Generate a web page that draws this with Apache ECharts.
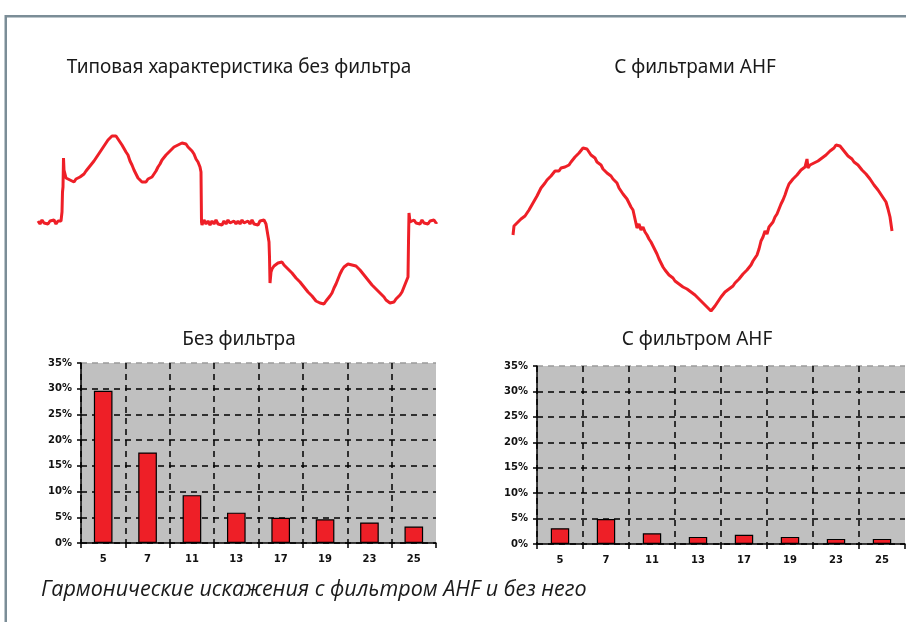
<!DOCTYPE html>
<html>
<head>
<meta charset="utf-8">
<script src="https://cdn.jsdelivr.net/npm/echarts@6/dist/echarts.min.js"></script>
<style>
html,body{margin:0;padding:0;background:#fff;}
#c{width:906px;height:622px;}
</style>
</head>
<body>
<div id="c"></div>
<script>
// ---- Data ----
var harmonics = ['5', '7', '11', '13', '17', '19', '23', '25'];
var withoutFilter = [29.6, 17.6, 9.3, 5.9, 4.9, 4.6, 4.0, 3.2];
var withFilterAHF = [3.1, 4.9, 2.1, 1.4, 1.8, 1.4, 1.0, 1.0];
var percentTicks = [0, 5, 10, 15, 20, 25, 30, 35];

var titleWaveNoFilter = 'Типовая характеристика без фильтра';
var titleWaveAHF = 'С фильтрами AHF';
var titleBarNoFilter = 'Без фильтра';
var titleBarAHF = 'С фильтром AHF';
var caption = 'Гармонические искажения с фильтром AHF и без него';

// current waveform without filter: [time, amplitude]
var waveNoFilter = [
[0,1],[2,-2],[4,2],[6,-1],[8,1],[10,-2],[12,1],[14,-1],[16,2],[18,-2],[20,1],[22,-1],[23,1],[24,10],[24.5,30],[25,35],[25.5,64],[26,52],[27,48],[28,44],[30,46],[32,42],[34,44],[36,40],[38,43],[40,41],[42,45],[44,46],[46,48],[48,51],[50,53],[52,56],[54,58],[56,61],[58,63],[60,67],[62,69],[64,73],[66,76],[68,78],[70,82],[72,83],[74,86],[76,84],[78,86],[80,83],[82,82],[84,77],[86,75],[88,70],[90,67],[92,61],[94,57],[96,52],[98,48],[100,44],[102,42],[104,40],[106,42],[108,40],[110,43],[112,41],[114,45],[116,48],[118,51],[120,55],[122,58],[124,62],[126,63],[128,67],[130,68],[132,71],[134,72],[136,75],[138,74],[140,77],[142,76],[144,79],[146,77],[148,78],[150,75],[152,73],[154,71],[156,68],[158,63],[160,60],[162,55],[163,50],[163.5,0],
[164,-3],[166,2],[168,-2],[170,1],[172,-3],[174,1],[176,-2],[178,2],[180,-2],[182,0],[184,-3],[186,1],[188,-2],[190,2],[192,-1],[194,-3],[196,1],[198,-2],[200,1],[202,-2],[204,2],[206,-1],[208,-3],[210,1],[212,-2],[214,2],[216,-2],[218,0],[220,-3],[222,1],[224,-1],[226,2],[228,-2],[230,-1],[231,-20],[231.5,-35],[232,-61],[233,-50],[234,-47],[236,-44],[238,-46],[240,-41],[242,-43],[244,-40],[246,-43],[248,-44],[250,-47],[252,-48],[254,-51],[256,-52],[258,-56],[260,-56],[262,-60],[264,-61],[266,-65],[268,-66],[270,-70],[272,-71],[274,-74],[276,-75],[278,-79],[280,-78],[282,-81],[284,-80],[286,-82],[288,-79],[290,-78],[292,-74],[294,-71],[296,-66],[298,-62],[300,-57],[302,-52],[304,-48],[306,-45],[308,-43],[310,-42],[312,-40],[314,-43],[316,-41],[318,-44],[320,-44],[322,-48],[324,-49],[326,-53],[328,-54],[330,-58],[332,-59],[334,-63],[336,-64],[338,-67],[340,-69],[342,-71],[344,-73],[346,-75],[348,-78],[350,-78],[352,-81],[354,-79],[356,-80],[358,-77],[360,-78],[362,-73],[364,-70],[366,-65],[368,-60],[370,-55],[370.5,-20],[371,9],[372,0],[374,-2],[376,2],[378,-1],[380,1],[382,-2],[384,2],[386,-1],[388,1],[390,-2],[392,1],[394,-1],[396,2],[398,-1],[399,0]
];

// current waveform with AHF filter: [time, amplitude]
var waveAHF = [
[0,-6],[1,3],[2,1],[4,6],[6,4],[8,10],[10,8],[12,13],[14,15],[16,19],[18,20],[20,26],[22,27],[24,33],[26,35],[28,41],[30,42],[32,46],[34,49],[36,50],[38,53],[40,55],[42,58],[44,60],[46,58],[48,61],[50,59],[52,62],[54,61],[56,64],[58,67],[60,68],[62,72],[64,73],[66,76],[68,77],[70,81],[72,83],[74,80],[76,78],[78,74],[80,72],[82,71],[84,67],[86,66],[88,64],[90,60],[92,59],[94,56],[96,55],[98,53],[100,50],[102,48],[104,46],[106,41],[108,40],[110,35],[112,33],[114,30],[116,26],[118,22],[120,19],[122,10],[124,1],[126,5],[128,-1],[130,2],[132,-3],[134,-6],[136,-10],[138,-13],[140,-17],[142,-21],[144,-25],[146,-30],[148,-34],[150,-38],[152,-41],[154,-43],[156,-46],[158,-45],[160,-49],[162,-52],[164,-53],[166,-55],[168,-54],[170,-58],[172,-57],[174,-60],[176,-61],[178,-63],[180,-64],[182,-66],[184,-68],[186,-70],[188,-72],[190,-74],[192,-76],[194,-78],[196,-79],[198,-82],[200,-80],[202,-77],[204,-74],[206,-72],[208,-68],[210,-66],[212,-63],[214,-63],[216,-60],[218,-58],[220,-57],[222,-54],[224,-52],[226,-50],[228,-48],[230,-45],[232,-44],[234,-41],[236,-39],[238,-36],[240,-32],[242,-29],[244,-26],[246,-20],[248,-12],[250,-8],[252,-2],[254,-5],[256,2],[258,4],[260,7],[262,12],[264,15],[266,20],[268,25],[270,29],[272,34],[274,40],[276,45],[278,47],[280,50],[282,51],[284,54],[286,56],[288,59],[290,61],[292,62],[294,70],[295,61],[297,64],[299,62],[301,66],[303,65],[305,68],[307,69],[309,71],[311,72],[313,74],[315,76],[317,78],[319,80],[321,81],[323,84],[325,86],[327,83],[329,81],[331,78],[333,76],[335,73],[337,71],[339,70],[341,67],[343,66],[345,64],[347,62],[349,59],[351,58],[353,55],[355,53],[357,50],[359,48],[361,44],[363,42],[365,39],[367,36],[369,33],[371,30],[373,27],[375,20],[377,12],[379,-2]
];

// ---- Styles ----
var RED = '#ee1f27';
var TITLE_FONT = '"Noto Sans", "Open Sans", sans-serif';
var AXIS_FONT = '"DejaVu Sans", sans-serif';

function waveAxes(gridIndex, xmax) {
  return {
    x: { type: 'value', gridIndex: gridIndex, min: 0, max: xmax, show: false },
    y: { type: 'value', gridIndex: gridIndex, min: -100, max: 100, show: false }
  };
}

function barXAxis(gridIndex) {
  return {
    type: 'category', gridIndex: gridIndex, data: harmonics, boundaryGap: true,
    axisLine: { show: true, lineStyle: { color: '#000', width: 1.5 } },
    axisTick: { show: true, length: 5, lineStyle: { color: '#000', width: 1.5 } },
    axisLabel: { color: '#111', fontSize: 10, fontWeight: 'bold', fontFamily: AXIS_FONT, margin: 11 },
    splitLine: { show: true, lineStyle: { color: ['#000', '#000', '#000', '#000', '#000', '#000', '#000', '#000', 'rgba(0,0,0,0)'], width: 1.5, type: [6, 5] } }
  };
}

function barYAxis(gridIndex) {
  return {
    type: 'value', gridIndex: gridIndex, min: percentTicks[0], max: percentTicks[percentTicks.length - 1],
    interval: percentTicks[1] - percentTicks[0],
    axisLine: { show: true, lineStyle: { color: '#000', width: 1.5 } },
    axisTick: { show: true, length: 4, lineStyle: { color: '#000', width: 1.5 } },
    axisLabel: { color: '#111', fontSize: 10, fontWeight: 'bold', fontFamily: AXIS_FONT, margin: 9, formatter: '{value}%' },
    splitLine: { show: true, lineStyle: { color: ['#000', '#000', '#000', '#000', '#000', '#000', '#000', '#9a9a9a'], width: 1.5, type: [6, 5] } }
  };
}

var wl = waveAxes(0, 399), wr = waveAxes(1, 379);

var option = {
  animation: false,
  backgroundColor: '#fff',
  grid: [
    { left: 38, top: 122, width: 399, height: 200 },
    { left: 513, top: 129, width: 379, height: 200 },
    { left: 81, top: 363, width: 355, height: 180, show: true, backgroundColor: '#c0c0c0', borderWidth: 0 },
    { left: 537, top: 366, width: 368, height: 178, show: true, backgroundColor: '#c0c0c0', borderWidth: 0 }
  ],
  xAxis: [wl.x, wr.x, barXAxis(2), barXAxis(3)],
  yAxis: [wl.y, wr.y, barYAxis(2), barYAxis(3)],
  series: [
    { type: 'line', xAxisIndex: 0, yAxisIndex: 0, data: waveNoFilter, symbol: 'none', lineStyle: { color: RED, width: 3 } },
    { type: 'line', xAxisIndex: 1, yAxisIndex: 1, data: waveAHF, symbol: 'none', lineStyle: { color: RED, width: 3 } },
    { type: 'bar', xAxisIndex: 2, yAxisIndex: 2, data: withoutFilter, barWidth: '42%', itemStyle: { color: RED, borderColor: '#000', borderWidth: 1.2 } },
    { type: 'bar', xAxisIndex: 3, yAxisIndex: 3, data: withFilterAHF, barWidth: '40%', itemStyle: { color: RED, borderColor: '#000', borderWidth: 1.2 } }
  ],
  graphic: [
    { type: 'rect', shape: { x: 5, y: 15, width: 901, height: 2.5 }, style: { fill: '#7b8d97' }, silent: true },
    { type: 'rect', shape: { x: 4.5, y: 15, width: 2.5, height: 607 }, style: { fill: '#7b8d97' }, silent: true },
    { type: 'text', x: 239, y: 68, style: { text: titleWaveNoFilter, align: 'center', verticalAlign: 'middle', fontSize: 19, fontFamily: TITLE_FONT, fill: '#1a1a1a' } },
    { type: 'text', x: 695, y: 68, style: { text: titleWaveAHF, align: 'center', verticalAlign: 'middle', fontSize: 19, fontFamily: TITLE_FONT, fill: '#1a1a1a' } },
    { type: 'text', x: 239, y: 340, style: { text: titleBarNoFilter, align: 'center', verticalAlign: 'middle', fontSize: 19, fontFamily: TITLE_FONT, fill: '#1a1a1a' } },
    { type: 'text', x: 697, y: 340, style: { text: titleBarAHF, align: 'center', verticalAlign: 'middle', fontSize: 19, fontFamily: TITLE_FONT, fill: '#1a1a1a' } },
    { type: 'text', x: 41, y: 590, style: { text: caption, align: 'left', verticalAlign: 'middle', fontSize: 21.5, fontStyle: 'italic', fontFamily: '"Open Sans", sans-serif', fill: '#1a1a1a' } }
  ]
};

var chart = echarts.init(document.getElementById('c'), null, { renderer: 'canvas' });
chart.setOption(option);
</script>
</body>
</html>
